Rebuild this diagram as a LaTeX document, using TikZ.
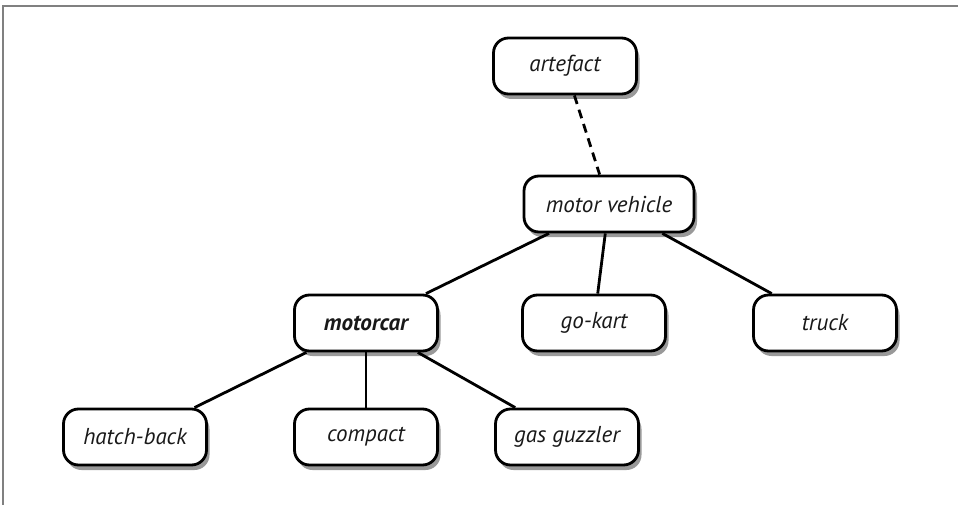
\documentclass[tikz,border=0pt]{standalone}
\usepackage{fontspec}
\setmainfont{PT Sans}
\usetikzlibrary{shadows}
\begin{document}
\begin{tikzpicture}[x=1pt,y=-1pt,
  box/.style={draw=black, line width=2.8pt, rounded corners=15pt, fill=white,
    minimum width=143pt, minimum height=56pt, inner sep=0pt,
    font=\fontsize{23}{27}\selectfont\itshape, text=black!90,
    drop shadow={shadow xshift=3pt, shadow yshift=-5pt, opacity=0.4, fill=black}},
  link/.style={line width=2.8pt, black},
  frame/.style={draw=gray, line width=1.6pt}]
\useasboundingbox (0,0) rectangle (958,505);
\draw[frame] (3,505) -- (3,6) -- (958,6);

\node[box] (art) at (565,66) {artefact};
\node[box, minimum width=170pt] (mv) at (609,204) {motor vehicle};
\node[box, font=\fontsize{23}{27}\selectfont\itshape\bfseries] (mc) at (366,323) {motorcar};
\node[box] (gk) at (594,323) {go-kart};
\node[box] (tr) at (825,323) {truck};
\node[box] (hb) at (135,437) {hatch-back};
\node[box] (cp) at (366,437) {compact};
\node[box] (gg) at (567,437) {gas guzzler};

\draw[link, dash pattern=on 9pt off 6pt] (art) -- (mv);
\draw[link] (mv) -- (mc);
\draw[link] (mv) -- (gk);
\draw[link] (mv) -- (tr);
\draw[link] (mc) -- (hb);
\draw[link] (mc) -- (cp);
\draw[link] (mc) -- (gg);
\end{tikzpicture}
\end{document}
